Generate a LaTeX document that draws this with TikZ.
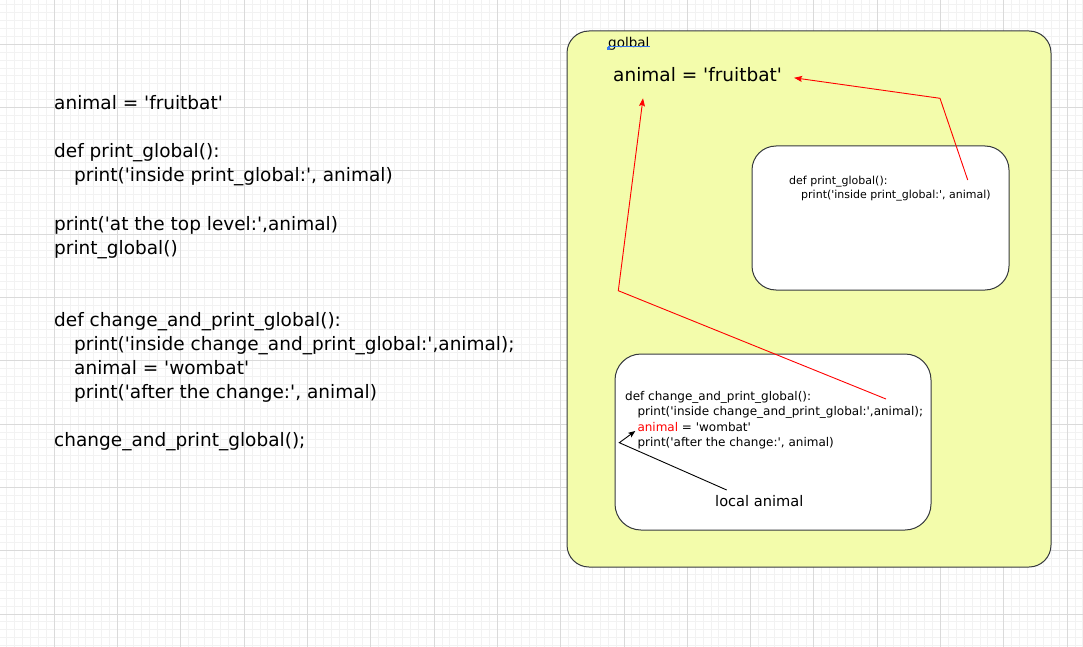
\documentclass[tikz,border=0pt]{standalone}
\usepackage{fontspec}
\setmainfont{DejaVu Sans}[Ligatures=TeXOff]
\usetikzlibrary{arrows.meta,positioning}
\definecolor{envc}{RGB}{243,252,171}
\definecolor{gridc}{RGB}{242,242,242}
\definecolor{gridmc}{RGB}{218,218,218}
\definecolor{edgec}{RGB}{54,57,61}
\definecolor{linkc}{RGB}{56,120,240}

\begin{document}
\begin{tikzpicture}[x=1pt,y=-1pt]
\tikzstyle{code}=[anchor=base west,inner sep=0pt,font=\fontsize{18.5}{24}\selectfont];
\tikzstyle{smallcode}=[code,font=\fontsize{12}{15}\selectfont];
\tikzstyle{tinycode}=[code,font=\fontsize{11}{13}\selectfont];
\tikzstyle{envbox}=[draw=edgec,fill=envc,line width=1pt,rounded corners=22pt];
\tikzstyle{fnbox}=[draw=edgec,fill=white,line width=1pt,rounded corners=24pt];
\tikzstyle{ref}=[red,line width=0.9pt,-{Stealth[length=8pt,width=6pt,inset=1.5pt]}];

\useasboundingbox (0,0) rectangle (1083,647);
\fill[white] (0,0) rectangle (1083,647);

% grid
\foreach \i in {1,...,138}
  \draw[gridc,line width=1pt] ({-9+7.9125*\i},0) -- ({-9+7.9125*\i},647);
\foreach \i in {2,...,84}
  \draw[gridc,line width=1pt] (0,{-19+7.9125*\i}) -- (1083,{-19+7.9125*\i});
\foreach \i in {1,...,17}
  \draw[gridmc,line width=1pt] ({-9+63.3*\i},0) -- ({-9+63.3*\i},647);
\foreach \i in {1,...,10}
  \draw[gridmc,line width=1pt] (0,{-19+63.3*\i}) -- (1083,{-19+63.3*\i});

% source code
\node[code] (g1) at (54,110) {animal = 'fruitbat'};
\node[code] (g2) at (54,158) {def print\_global():};
\node[code] (g3) at (74,182) {print('inside print\_global:', animal)};
\node[code] (g4) at (54,230) {print('at the top level:',animal)};
\node[code] (g5) at (54,254) {print\_global()};
\node[code] (g6) at (54,326) {def change\_and\_print\_global():};
\node[code] (g7) at (74,350) {print('inside change\_and\_print\_global:',animal);};
\node[code] (g8) at (74,374) {animal = 'wombat'};
\node[code] (g9) at (74,398) {print('after the change:', animal)};
\node[code] (g10) at (54,446) {change\_and\_print\_global();};

% global frame
\node[envbox,minimum width=484,minimum height=536] (glob) at (809,299) {};
\node[code,font=\fontsize{13.5}{16}\selectfont] (golbal) at (608,47.7) {golbal};
\draw[linkc,line width=1.2pt] ([yshift=1pt]golbal.base west) -- ([yshift=1pt]golbal.base east);
\fill[linkc] ([shift={(-1.5,-0.5)}]golbal.base west) rectangle +(3,3);
\node[code] (fruit) at (613,81.7) {animal = 'fruitbat'};

% print_global
\node[fnbox,minimum width=257,minimum height=144] (pgbox) at (880.5,218) {};
\node[tinycode] (p1) at (789,185) {def print\_global():};
\node[tinycode] (p2) at (801,198.3) {print('inside print\_global:', animal)};

% change_and_print_global
\node[fnbox,rounded corners=26pt,minimum width=316,minimum height=176] (cpbox) at (773,442) {};
\node[smallcode] (c1) at (625,400) {def change\_and\_print\_global():};
\node[smallcode] (c2) at (637.3,415.5) {print('inside change\_and\_print\_global:',animal);};
\node[smallcode] (c3) at (637.3,431) {\textcolor{red}{animal} = 'wombat'};
\node[smallcode] (c4) at (637.3,446.5) {print('after the change:', animal)};
\node[code,font=\fontsize{14.6}{17}\selectfont] (loc) at (715,506.7) {local animal};

% references
\coordinate (ra1) at (967.7,180);
\coordinate (ra2) at (940,98.3);
\draw[ref] (ra1) -- (ra2) -- ([shift={(12,3)}]fruit.east);
\coordinate (rb1) at (886,399);
\coordinate (rb2) at (618.3,290.7);
\draw[ref] (rb1) -- (rb2) -- ([shift={(30,16.6)}]fruit.base west);
\coordinate (la1) at (726.7,490);
\coordinate (la2) at (619.3,442.7);
\draw[black,line width=0.9pt,-{Stealth[length=7pt,width=5.5pt,inset=1.5pt]}] (la1) -- (la2) -- ([xshift=-2pt]c3.base west);

\end{tikzpicture}
\end{document}
